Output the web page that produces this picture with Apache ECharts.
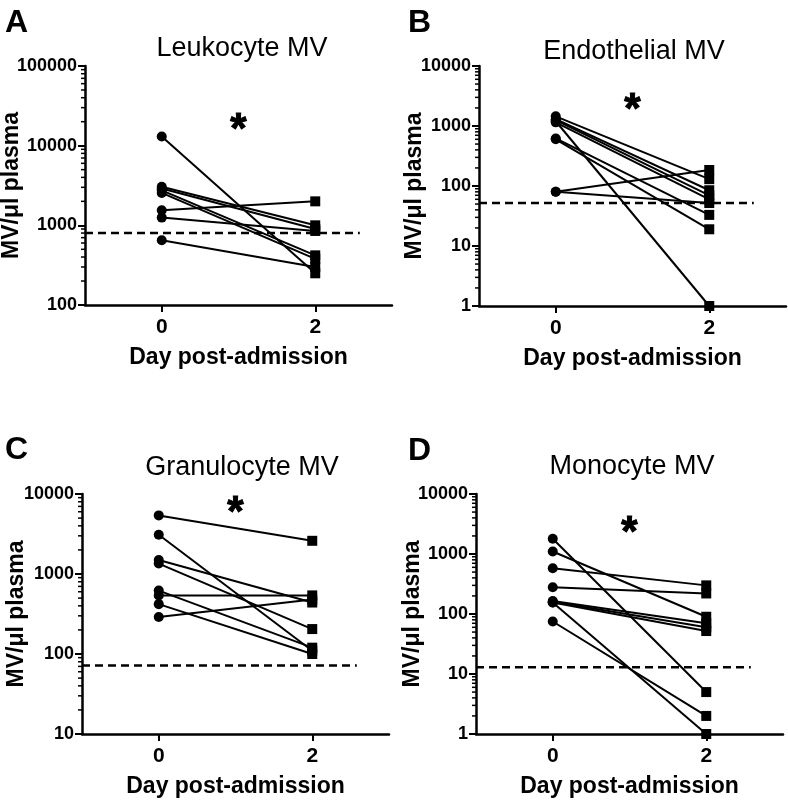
<!DOCTYPE html>
<html>
<head>
<meta charset="utf-8">
<script src="https://cdn.jsdelivr.net/npm/echarts@6/dist/echarts.min.js"></script>
<style>
html,body{margin:0;padding:0;background:#fff;}
#chart{width:788px;height:801px;}
</style>
</head>
<body>
<div id="chart"></div>
<script>
// ---------------- data ----------------
const days = [0, 2];
const xTickLabels = ['0', '2'];

const panelTitles = ['Leukocyte MV', 'Endothelial MV', 'Granulocyte MV', 'Monocyte MV'];
const panelLetters = ['A', 'B', 'C', 'D'];

const leukoDay0 = [13000, 3050, 2900, 2750, 2550, 1550, 1250, 650];
const leukoDay2 = [250, 1000, 900, 420, 380, 2000, 850, 300];
const leukoCutoff = 800;
const leukoTicks = [100, 1000, 10000, 100000];

const endoDay0 = [1450, 1300, 1250, 1200, 1150, 620, 600, 80, 80];
const endoDay2 = [130, 85, 70, 1, 60, 33, 19, 185, 52];
const endoCutoff = 52;
const endoTicks = [1, 10, 100, 1000, 10000];

const granDay0 = [5400, 3100, 1500, 1350, 620, 540, 420, 290];
const granDay2 = [2600, 110, 440, 205, 120, 540, 100, 480];
const granCutoff = 72;
const granTicks = [10, 100, 1000, 10000];

const monoDay0 = [1800, 1100, 580, 280, 165, 160, 155, 155, 75];
const monoDay2 = [5, 90, 300, 220, 70, 60, 52, 1, 2];
const monoCutoff = 13;
const monoTicks = [1, 10, 100, 1000, 10000];

const starX = 1;
const starY = [20000, 2600, 7350, 3100];
const cutoffEndX = 2.58;

// ---------------- layout ----------------
const FONT = '"Liberation Sans", Arial, sans-serif';
const grids = [
  {left: 85, top: 66, width: 307, height: 239, outerBoundsMode: 'none', containLabel: false},
  {left: 479, top: 66, width: 307, height: 240, outerBoundsMode: 'none', containLabel: false},
  {left: 82, top: 494, width: 307, height: 240, outerBoundsMode: 'none', containLabel: false},
  {left: 476, top: 494, width: 307, height: 240, outerBoundsMode: 'none', containLabel: false}
];
const yNameGaps = [62, 53, 54, 52];
const titlePos = [
  {x: 237, y: 30}, {x: 629, y: 33}, {x: 237, y: 449}, {x: 627, y: 448}
];
const letterPos = [
  {x: 0, y: 2}, {x: 403, y: 2}, {x: 0, y: 429}, {x: 403, y: 430}
];

const panels = [
  {d0: leukoDay0, d2: leukoDay2, cut: leukoCutoff, ticks: leukoTicks},
  {d0: endoDay0, d2: endoDay2, cut: endoCutoff, ticks: endoTicks},
  {d0: granDay0, d2: granDay2, cut: granCutoff, ticks: granTicks},
  {d0: monoDay0, d2: monoDay2, cut: monoCutoff, ticks: monoTicks}
];

function minorTicks(ticks) {
  const out = [];
  for (let i = 0; i < ticks.length - 1; i++) {
    for (let k = 2; k <= 9; k++) out.push(ticks[i] * k);
  }
  return out;
}

const option = {
  animation: false,
  backgroundColor: '#fff',
  title: [],
  grid: grids,
  xAxis: [],
  yAxis: [],
  series: []
};

panels.forEach((p, i) => {
  option.title.push({
    text: panelTitles[i], left: titlePos[i].x, top: titlePos[i].y, textAlign: 'center',
    textStyle: {fontFamily: FONT, fontSize: 27, fontWeight: 'normal', color: '#000'}
  });
  option.title.push({
    text: panelLetters[i], left: letterPos[i].x, top: letterPos[i].y,
    textStyle: {fontFamily: FONT, fontSize: 32, fontWeight: 'bold', color: '#000'}
  });
  option.xAxis.push({
    type: 'value', gridIndex: i, min: -1, max: 3,
    name: 'Day post-admission', nameLocation: 'middle', nameGap: 41, nameMoveOverlap: false,
    nameTextStyle: {fontFamily: FONT, fontSize: 23, fontWeight: 'bold', color: '#000'},
    axisLine: {show: true, onZero: false, lineStyle: {color: '#000', width: 2.5}},
    axisTick: {show: true, length: 7, customValues: days, lineStyle: {color: '#000', width: 2}},
    axisLabel: {show: true, customValues: days, margin: 12,
      formatter: v => xTickLabels[days.indexOf(v)],
      fontFamily: FONT, fontSize: 21, fontWeight: 'bold', color: '#000'},
    splitLine: {show: false}
  });
  option.yAxis.push({
    type: 'log', logBase: 10, gridIndex: i,
    min: p.ticks[0], max: p.ticks[p.ticks.length - 1],
    name: 'MV/\u03bcl plasma', nameLocation: 'middle', nameGap: yNameGaps[i], nameMoveOverlap: false,
    nameTextStyle: {fontFamily: FONT, fontSize: 23, fontWeight: 'bold', color: '#000'},
    axisLine: {show: true, onZero: false, lineStyle: {color: '#000', width: 2.5}},
    axisTick: {show: true, length: 7, customValues: p.ticks, lineStyle: {color: '#000', width: 2}},
    axisLabel: {show: true, customValues: p.ticks, margin: 8,
      formatter: v => String(Math.round(v)),
      fontFamily: FONT, fontSize: 18, fontWeight: 'bold', color: '#000'},
    splitLine: {show: false}
  });
  // minor ticks
  option.series.push({
    type: 'custom', xAxisIndex: i, yAxisIndex: i, clip: false, silent: true,
    data: minorTicks(p.ticks).map(v => [-1, v]),
    renderItem: (params, api) => {
      const pt = api.coord([api.value(0), api.value(1)]);
      return {type: 'line', shape: {x1: pt[0] - 4, y1: pt[1], x2: pt[0], y2: pt[1]},
        style: {stroke: '#000', lineWidth: 1.5}};
    }
  });
  // cutoff dashed line
  option.series.push({
    type: 'line', xAxisIndex: i, yAxisIndex: i, symbol: 'none', silent: true,
    data: [[-1, p.cut], [cutoffEndX, p.cut]],
    lineStyle: {color: '#000', width: 2.5, type: [8, 5]}
  });
  // subjects
  p.d0.forEach((v0, j) => {
    option.series.push({
      type: 'line', xAxisIndex: i, yAxisIndex: i, clip: false,
      symbolSize: 10,
      data: [
        {value: [days[0], v0], symbol: 'circle'},
        {value: [days[1], p.d2[j]], symbol: 'rect'}
      ],
      itemStyle: {color: '#000'},
      lineStyle: {color: '#000', width: 2}
    });
  });
  // significance star
  option.series.push({
    type: 'scatter', xAxisIndex: i, yAxisIndex: i, symbolSize: 0, silent: true,
    itemStyle: {color: '#000', opacity: 1},
    data: [[starX, starY[i]]],
    label: {show: true, position: 'inside', formatter: '*', offset: [0, 9],
      fontFamily: FONT, fontSize: 42, fontWeight: 'bold', color: '#000', opacity: 1,
      textBorderColor: '#000', textBorderWidth: 1}
  });
});

const chart = echarts.init(document.getElementById('chart'), null, {renderer: 'canvas'});
chart.setOption(option);
</script>
</body>
</html>
